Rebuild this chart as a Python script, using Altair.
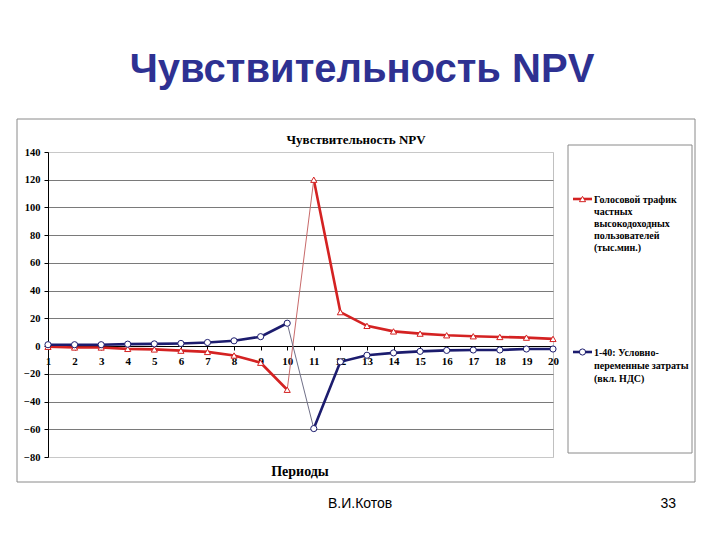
import altair as alt
import pandas as pd

# ---- data ----
periods = list(range(1, 21))
red_vals = [-0.5, -1, -1, -2, -2.4, -3.3, -4.2, -6.8, -12, -31.5,
            120, 24.5, 14.6, 10.6, 9, 7.8, 7.1, 6.6, 6.1, 5.2]
blue_vals = [1, 1, 1, 1.4, 1.6, 1.9, 2.6, 3.8, 6.8, 16.5,
             -59.5, -11.3, -6.6, -4.9, -3.8, -3.1, -2.8, -2.8, -2.1, -2.1]
series_names = ["Голосовой трафик", "Условно-переменные затраты"]
y_ticks = list(range(-80, 141, 20))

legend_red = ["Голосовой трафик", "частных", "высокодоходных", "пользователей", "(тыс.мин.)"]
legend_blue = ["1-40: Условно-", "переменные затраты", "(вкл. НДС)"]

RED = "#D42222"
NAVY = "#1C1C6E"
RED_THIN = "#C86A6A"
NAVY_THIN = "#707088"
SERIF = "Liberation Serif"
SANS = "Liberation Sans"

rows = []
for p, r, b in zip(periods, red_vals, blue_vals):
    seg = "a" if p <= 10 else "b"
    rows.append({"period": p, "value": r, "series": series_names[0], "seg": seg})
    rows.append({"period": p, "value": b, "series": series_names[1], "seg": seg})
df = pd.DataFrame(rows)

conn = df[df["period"].isin([10, 11])].copy()
one = pd.DataFrame({"k": [0]})

W, H = 505, 305

x = alt.X("period:Q",
          scale=alt.Scale(domain=[1, 20], nice=False, zero=False),
          axis=alt.Axis(values=periods, tickCount=len(periods), title=None,
                        offset=-round(H * 80 / 220),
                        grid=False, labelFont=SERIF, labelFontWeight="bold",
                        labelFontSize=11, labelColor="black", tickColor="black",
                        tickSize=4, labelPadding=5, domainColor="black",
                        labelFlush=False, labelOverlap=False, labelBound=False))
y = alt.Y("value:Q",
          scale=alt.Scale(domain=[-80, 140], nice=False, zero=False),
          axis=alt.Axis(values=y_ticks, tickCount=len(y_ticks), title=None, grid=True,
                        gridColor=alt.expr("datum.value == 140 || datum.value == -80 ? '#c8c8c8' : '#7a7a7a'"),
                        gridWidth=1, labelFont=SERIF, labelFontWeight="bold",
                        labelFontSize=10.5, labelColor="black", tickColor="black",
                        tickSize=4, labelPadding=4, domainColor="black",
                        labelOverlap=False, labelBound=False, labelFlush=False))

color_scale = alt.Scale(domain=series_names, range=[RED, NAVY])

lines = alt.Chart(df).mark_line(strokeWidth=2.6).encode(
    x=x, y=y,
    color=alt.Color("series:N", scale=color_scale, legend=None),
    detail="seg:N",
)

conn_red = alt.Chart(conn).transform_filter(
    alt.datum.series == series_names[0]
).mark_line(strokeWidth=1, color=RED_THIN).encode(x="period:Q", y="value:Q")
conn_blue = alt.Chart(conn).transform_filter(
    alt.datum.series == series_names[1]
).mark_line(strokeWidth=1, color=NAVY_THIN).encode(x="period:Q", y="value:Q")

points = alt.Chart(df).mark_point(fill="white", fillOpacity=1, strokeWidth=1, size=38, opacity=1).encode(
    x="period:Q", y="value:Q",
    stroke=alt.Stroke("series:N", scale=color_scale, legend=None),
    shape=alt.Shape("series:N", scale=alt.Scale(domain=series_names, range=["triangle-up", "circle"]), legend=None),
)

# ---- decorations (slide) ----
frame = alt.Chart(one).mark_rect(fill="white", fillOpacity=0, stroke="#8a8a8a", strokeWidth=1).encode(
    x=alt.value(-31), x2=alt.value(647), y=alt.value(-33), y2=alt.value(330))

slide_title = alt.Chart(one).mark_text(
    text="Чувствительность NPV", font=SANS, fontWeight="bold", fontSize=40,
    color="#2E3192", align="center", baseline="alphabetic").encode(
    x=alt.value(314), y=alt.value(-70))

chart_title = alt.Chart(one).mark_text(
    text="Чувствительность NPV", font=SERIF, fontWeight="bold", fontSize=13,
    color="black", align="center", baseline="middle").encode(
    x=alt.value(308), y=alt.value(-12))

x_title = alt.Chart(one).mark_text(
    text="Периоды", font=SERIF, fontWeight="bold", fontSize=14,
    color="black", align="center", baseline="middle").encode(
    x=alt.value(252), y=alt.value(320))

footer_name = alt.Chart(one).mark_text(
    text="В.И.Котов", font=SANS, fontSize=14, color="black",
    align="left", baseline="alphabetic").encode(x=alt.value(280), y=alt.value(356))
footer_num = alt.Chart(one).mark_text(
    text="33", font=SANS, fontSize=14, color="black",
    align="right", baseline="alphabetic").encode(x=alt.value(628), y=alt.value(356))

legend_box = alt.Chart(one).mark_rect(fill="white", stroke="#8a8a8a", strokeWidth=1).encode(
    x=alt.value(520), x2=alt.value(644), y=alt.value(-7), y2=alt.value(301))

leg_line_red = alt.Chart(one).mark_rule(color=RED, strokeWidth=2.6).encode(
    x=alt.value(525), x2=alt.value(544), y=alt.value(47))
leg_pt_red = alt.Chart(one).mark_point(shape="triangle-up", fill="white", fillOpacity=1,
                                       stroke=RED, strokeWidth=1, size=38, opacity=1).encode(
    x=alt.value(534.5), y=alt.value(47))
leg_text_red = alt.Chart(one).mark_text(
    text=legend_red, font=SERIF, fontWeight="bold", fontSize=10, lineHeight=12,
    color="black", align="left", baseline="middle").encode(x=alt.value(546), y=alt.value(48))

leg_line_blue = alt.Chart(one).mark_rule(color=NAVY, strokeWidth=2.6).encode(
    x=alt.value(525), x2=alt.value(544), y=alt.value(200))
leg_pt_blue = alt.Chart(one).mark_point(shape="circle", fill="white", fillOpacity=1,
                                        stroke=NAVY, strokeWidth=1, size=38, opacity=1).encode(
    x=alt.value(534.5), y=alt.value(200))
leg_text_blue = alt.Chart(one).mark_text(
    text=legend_blue, font=SERIF, fontWeight="bold", fontSize=10, lineHeight=12.8,
    color="black", align="left", baseline="middle").encode(x=alt.value(546), y=alt.value(201))

chart = alt.layer(
    frame, slide_title, chart_title, x_title, footer_name, footer_num,
    lines, conn_red, conn_blue, points,
    legend_box, leg_line_red, leg_pt_red, leg_text_red,
    leg_line_blue, leg_pt_blue, leg_text_blue,
).properties(
    width=W, height=H,
    autosize=alt.AutoSizeParams(type="none"),
    padding={"left": 48, "top": 152, "right": 167, "bottom": 83},
    background="white",
).configure_view(stroke="#c0c0c0", strokeWidth=1)

chart.save("out.html", embed_options={"renderer": "svg", "actions": False})
